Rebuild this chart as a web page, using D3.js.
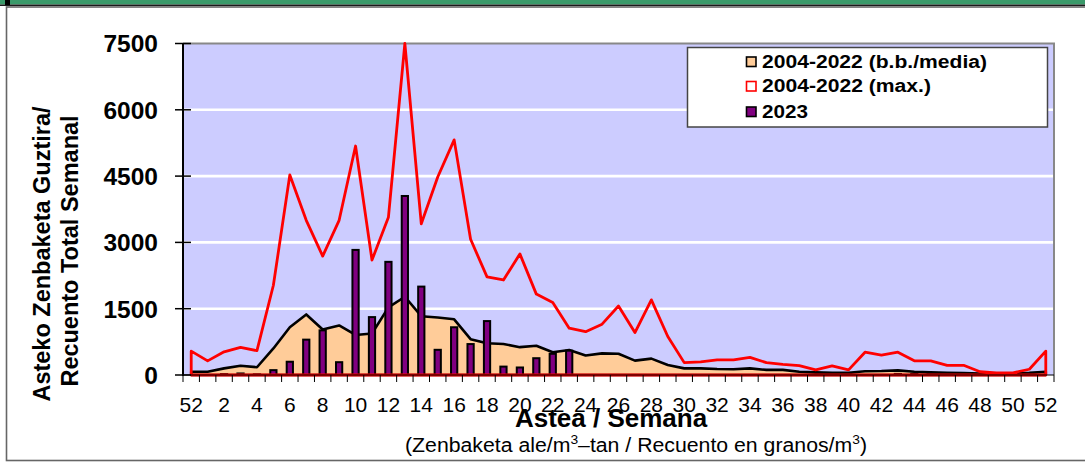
<!DOCTYPE html>
<html>
<head>
<meta charset="utf-8">
<script src="https://cdn.jsdelivr.net/npm/d3@7"></script>
<style>
body { margin: 0; background: #fff; }
svg text { font-family: 'Liberation Sans', Arial, sans-serif; fill: #000; }
</style>
</head>
<body>
<svg id="chart" width="1085" height="466"></svg>
<script>
// week 52 of previous year, then weeks 1..52
const weeks = ['52', '1', '2', '3', '4', '5', '6', '7', '8', '9', '10', '11', '12', '13', '14', '15', '16', '17', '18',
    '19', '20', '21', '22', '23', '24', '25', '26', '27', '28', '29', '30', '31', '32', '33', '34', '35', '36', '37',
    '38', '39', '40', '41', '42', '43', '44', '45', '46', '47', '48', '49', '50', '51', '52']
const meanValues = [75, 75, 150, 210, 175, 600, 1080, 1370, 1030, 1120, 905, 940, 1530, 1770, 1330, 1300, 1260, 810,
    720, 700, 630, 660, 515, 565, 440, 490, 480, 325, 370, 225, 150, 150, 135, 130, 150, 115, 115, 75, 60, 50, 50, 85,
    90, 105, 75, 60, 50, 45, 35, 35, 35, 50, 75]
const maxValues = [540, 320, 525, 625, 550, 2030, 4525, 3500, 2690, 3500, 5180, 2600, 3570, 7500, 3420, 4480, 5320,
    3070, 2220, 2150, 2740, 1830, 1640, 1060, 980, 1150, 1560, 960, 1700, 870, 280, 295, 340, 340, 400, 280, 240, 210,
    115, 205, 115, 515, 450, 515, 320, 320, 220, 220, 75, 50, 50, 130, 540]
const values2023 = [null, null, 20, 35, 15, 110, 300, 800, 1010, 290, 2830, 1310, 2560, 4050, 2000, 570, 1080, 700,
    1220, 190, 170, 380, 480, 550, null, null, null, null, null, null, null, null, null, null, null, null, null, null,
    null, null, null, null, null, 25, 25, 25, null, null, null, null, null, null, null]
const yTicks = [0, 1500, 3000, 4500, 6000, 7500]
const legendLabels = ['2004-2022 (b.b./media)', '2004-2022 (max.)', '2023']

const svg = d3.select('#chart')
const plotLeft = 183, plotRight = 1054, plotTop = 43.5, plotBottom = 375

const x = d3.scaleBand().domain(d3.range(weeks.length)).range([plotLeft, plotRight])
const y = d3.scaleLinear().domain([0, 7500]).range([plotBottom, plotTop])
const cx = i => x(i) + x.bandwidth() / 2

// page frame
svg.append('rect').attr('x', 0).attr('y', 0).attr('width', 1085).attr('height', 4.5).attr('fill', '#3a9a6a')
svg.append('line').attr('x1', 0).attr('x2', 1085).attr('y1', 5.2).attr('y2', 5.2).attr('stroke', '#1a1a1a').attr('stroke-width', 1.4)
svg.append('rect').attr('x', 5).attr('y', 0).attr('width', 5).attr('height', 5).attr('fill', '#000')
svg.append('rect').attr('x', 6.5).attr('y', 7).attr('width', 1100).attr('height', 453.5)
    .attr('fill', 'none').attr('stroke', '#666').attr('stroke-width', 1.6)

// plot area
svg.append('rect').attr('x', plotLeft).attr('y', plotTop).attr('width', plotRight - plotLeft).attr('height', plotBottom - plotTop).attr('fill', '#ccccff')
svg.selectAll('.grid').data(yTicks.filter(t => t > 0 && t < 7500)).join('line')
    .attr('x1', plotLeft).attr('x2', plotRight)
    .attr('y1', d => y(d)).attr('y2', d => y(d))
    .attr('stroke', '#fff').attr('stroke-width', 2.6)
svg.append('path').attr('d', `M${plotLeft},${plotTop}H${plotRight}V${plotBottom}`)
    .attr('fill', 'none').attr('stroke', '#888').attr('stroke-width', 2)

const area = d3.area().x((d, i) => cx(i)).y0(y(0)).y1(d => y(d))

svg.append('path').datum(meanValues).attr('d', area)
    .attr('fill', '#ffcc99').attr('stroke', '#000').attr('stroke-width', 2.6).attr('stroke-linejoin', 'round')

const barW = x.bandwidth() * 0.38
svg.selectAll('.bar').data(values2023.map((v, i) => ({ v, i })).filter(d => d.v != null)).join('rect')
    .attr('x', d => cx(d.i) - barW / 2)
    .attr('y', d => y(d.v))
    .attr('width', barW)
    .attr('height', d => y(0) - y(d.v))
    .attr('fill', '#800080').attr('stroke', '#000').attr('stroke-width', 2)

svg.append('path').datum(maxValues).attr('d', area)
    .attr('fill', 'none').attr('stroke', '#ff0000').attr('stroke-width', 2.8).attr('stroke-linejoin', 'round')

// axes
svg.append('line').attr('x1', plotLeft).attr('x2', plotLeft).attr('y1', plotTop).attr('y2', plotBottom + 1)
    .attr('stroke', '#000').attr('stroke-width', 2)
svg.append('line').attr('x1', plotLeft).attr('x2', plotRight).attr('y1', plotBottom).attr('y2', plotBottom)
    .attr('stroke', '#000').attr('stroke-width', 1.2)
svg.selectAll('.ytick').data(yTicks).join('line')
    .attr('x1', plotLeft - 8).attr('x2', plotLeft + 8)
    .attr('y1', d => y(d)).attr('y2', d => y(d))
    .attr('stroke', '#000').attr('stroke-width', 1.5)
svg.selectAll('.ylab').data(yTicks).join('text')
    .attr('x', 158).attr('y', d => y(d)).attr('dy', '0.36em')
    .attr('text-anchor', 'end').attr('font-size', 24.5).attr('font-weight', 'bold')
    .text(d => d)

const tickPos = d3.range(weeks.length).map(i => x(i)).concat([plotRight])
svg.selectAll('.xtick').data(tickPos).join('line')
    .attr('x1', d => d).attr('x2', d => d)
    .attr('y1', plotBottom).attr('y2', plotBottom + 7)
    .attr('stroke', '#000').attr('stroke-width', 1)
svg.selectAll('.xlab').data(weeks.map((w, i) => ({ w, i })).filter(d => d.i % 2 == 0)).join('text')
    .attr('x', d => cx(d.i)).attr('y', 412)
    .attr('text-anchor', 'middle').attr('font-size', 21)
    .text(d => d.w)

// titles (the axis title overlaps the tick labels, as in the original)
svg.append('text').attr('x', 611).attr('y', 427).attr('text-anchor', 'middle')
    .attr('font-size', 26).attr('font-weight', 'bold').text('Astea / Semana')
const sub = svg.append('text').attr('x', 405).attr('y', 452).attr('font-size', 20)
    .attr('textLength', 462).attr('lengthAdjust', 'spacingAndGlyphs')
sub.append('tspan').text('(Zenbaketa ale/m')
sub.append('tspan').attr('font-size', 13).attr('dy', -8).text('3')
sub.append('tspan').attr('dy', 8).text('–tan / Recuento en granos/m')
sub.append('tspan').attr('font-size', 13).attr('dy', -8).text('3')
sub.append('tspan').attr('dy', 8).text(')')

svg.append('text').attr('transform', 'translate(50,254) rotate(-90)').attr('text-anchor', 'middle')
    .attr('font-size', 23.5).attr('font-weight', 'bold').text('Asteko Zenbaketa Guztira/')
svg.append('text').attr('transform', 'translate(78,251) rotate(-90)').attr('text-anchor', 'middle')
    .attr('font-size', 23.5).attr('font-weight', 'bold').text('Recuento Total Semanal')

// legend
svg.append('rect').attr('x', 687.5).attr('y', 47.5).attr('width', 360).attr('height', 79.5)
    .attr('fill', '#fff').attr('stroke', '#444').attr('stroke-width', 1.5)
const legendRows = [
    { fill: '#ffcc99', stroke: '#000', base: 67.5, len: 225 },
    { fill: '#fff', stroke: '#ff0000', base: 92, len: 169 },
    { fill: '#800080', stroke: '#000', base: 117.5, len: 46 }
]
legendRows.forEach((row, i) => {
    svg.append('rect').attr('x', 746.5).attr('y', row.base - 10.5).attr('width', 9.5).attr('height', 9.5)
        .attr('fill', row.fill).attr('stroke', row.stroke).attr('stroke-width', 1.6)
    svg.append('text').attr('x', 762).attr('y', row.base)
        .attr('font-size', 18).attr('font-weight', 'bold')
        .attr('textLength', row.len).attr('lengthAdjust', 'spacingAndGlyphs')
        .text(legendLabels[i])
})
</script>
</body>
</html>
